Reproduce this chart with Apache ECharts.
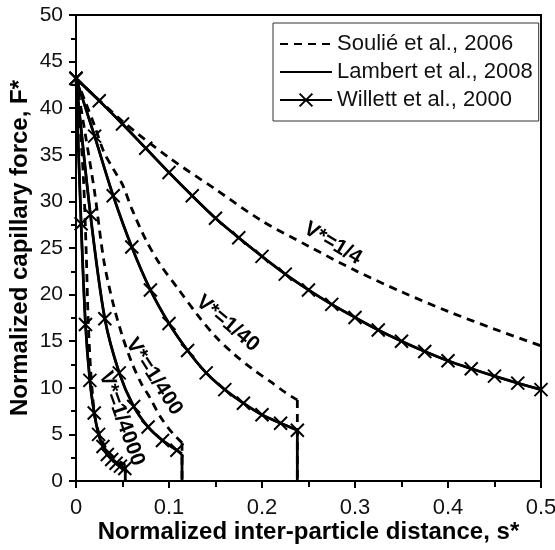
<!DOCTYPE html>
<html>
<head>
<meta charset="utf-8">
<script src="https://cdn.jsdelivr.net/npm/echarts@6/dist/echarts.min.js"></script>
<style>
  html, body { margin: 0; padding: 0; background: #fff; }
  #chart { width: 555px; height: 550px; }
</style>
</head>
<body>
<div id="chart"></div>
<script>
// B 数据
// Soulié et al., 2006 (虚线)
var soulie4X = [0, 0.05, 0.1, 0.15, 0.2, 0.25, 0.3, 0.35, 0.4, 0.45, 0.5]
var soulie4F = [43.2, 38.6, 34.7, 31.3, 27.9, 25.2, 22.6, 20.3, 18.2, 16.3, 14.5]
var soulie40X = [0, 0.01, 0.02, 0.03, 0.04, 0.05, 0.06, 0.075, 0.09, 0.11, 0.13, 0.15, 0.17, 0.19, 0.21, 0.225, 0.238]
var soulie40F = [43.2, 40.7, 38.1, 35.3, 33.5, 31.8, 29.2, 25.9, 23.3, 20.6, 17.9, 15.5, 13.6, 12.0, 10.6, 9.5, 8.7]
var soulie400X = [0, 0.01, 0.02, 0.03, 0.04, 0.05, 0.06, 0.07, 0.08, 0.09, 0.1, 0.107, 0.114]
var soulie400F = [43.2, 37.2, 31.0, 23.6, 19.0, 15.5, 12.7, 10.5, 8.85, 7.0, 5.6, 4.8, 4.1]
var soulie4000X = [0, 0.004, 0.008, 0.011, 0.013, 0.0155, 0.018, 0.0205, 0.025, 0.03, 0.035, 0.04, 0.045, 0.05, 0.053]
var soulie4000F = [43.2, 38.5, 32.5, 24.5, 17.5, 12.3, 9.0, 6.8, 5.0, 3.9, 3.1, 2.6, 2.2, 1.9, 1.7]

// Lambert et al., 2008 (实线)
var lambert4X = [0, 0.025, 0.05, 0.075, 0.1, 0.125, 0.15, 0.175, 0.2, 0.225, 0.25, 0.275, 0.3, 0.325, 0.35, 0.375, 0.4, 0.425, 0.45, 0.475, 0.5]
var lambert4F = [43.2, 40.8, 38.3, 35.7, 33.1, 30.6, 28.2, 26.1, 24.1, 22.2, 20.5, 18.95, 17.55, 16.2, 15.0, 13.9, 12.9, 12.05, 11.25, 10.5, 9.8]
var lambert40X = [0, 0.02, 0.04, 0.06, 0.08, 0.1, 0.12, 0.14, 0.16, 0.18, 0.2, 0.22, 0.238]
var lambert40F = [43.2, 37.0, 30.6, 25.1, 20.5, 16.9, 14.0, 11.6, 9.8, 8.35, 7.1, 6.2, 5.45]
var lambert400X = [0, 0.0155, 0.031, 0.0465, 0.062, 0.0775, 0.093, 0.1085, 0.114]
var lambert400F = [43.2, 28.6, 17.4, 11.6, 8.0, 5.8, 4.35, 3.3, 2.9]
var lambert4000X = [0, 0.0055, 0.0102, 0.0149, 0.0196, 0.0243, 0.029, 0.0337, 0.0384, 0.0431, 0.0478, 0.053]
var lambert4000F = [43.2, 27.6, 16.8, 10.8, 7.3, 5.0, 3.7, 2.85, 2.3, 1.9, 1.6, 1.3]

// Willett et al., 2000 (叉号)
var willett4X = [0, 0.025, 0.05, 0.075, 0.1, 0.125, 0.15, 0.175, 0.2, 0.225, 0.25, 0.275, 0.3, 0.325, 0.35, 0.375, 0.4, 0.425, 0.45, 0.475, 0.5]
var willett4F = [43.2, 40.8, 38.3, 35.7, 33.1, 30.6, 28.2, 26.1, 24.1, 22.2, 20.5, 18.95, 17.55, 16.2, 15.0, 13.9, 12.9, 12.05, 11.25, 10.5, 9.8]
var willett40X = [0, 0.02, 0.04, 0.06, 0.08, 0.1, 0.12, 0.14, 0.16, 0.18, 0.2, 0.22, 0.238]
var willett40F = [43.2, 37.0, 30.6, 25.1, 20.5, 16.9, 14.0, 11.6, 9.8, 8.35, 7.1, 6.2, 5.45]
var willett400X = [0, 0.0155, 0.031, 0.0465, 0.062, 0.0775, 0.093, 0.1085]
var willett400F = [43.2, 28.6, 17.4, 11.6, 8.0, 5.8, 4.35, 3.3]
var willett4000X = [0, 0.0055, 0.0102, 0.0149, 0.0196, 0.0243, 0.029, 0.0337, 0.0384, 0.0431, 0.0478, 0.0525]
var willett4000F = [43.2, 27.6, 16.8, 10.8, 7.3, 5.0, 3.7, 2.85, 2.3, 1.9, 1.6, 1.35]

// 断裂距离 (竖线落到 0)
var ruptureX = [0.053, 0.114, 0.238]

// 曲线标注
var curveLabels = ['V*=1/4', 'V*=1/40', 'V*=1/400', 'V*=1/4000']
var curveLabelAt = [[0.276, 25.5], [0.163, 16.9], [0.084, 11.2], [0.049, 6.7]]
var curveLabelAngle = [-31, -40, -57, -70]
// E 数据

var FONT = '"Liberation Sans", Arial, sans-serif'
var SOULIE = 'Soulié et al., 2006'
var LAMBERT = 'Lambert et al., 2008'
var WILLETT = 'Willett et al., 2000'
var CROSS = 'path://M0,0L10,10M10,0L0,10'
var DASH = [8, 6]

function pairs (xs, ys) {
  return xs.map(function (x, i) { return [x, ys[i]] })
}

function dashLine (xs, ys) {
  return {
    name: SOULIE, type: 'line', data: pairs(xs, ys), symbol: 'none', smooth: 0.3,
    lineStyle: { color: '#000', width: 2.8, type: DASH }, z: 2
  }
}
function solidLine (xs, ys) {
  return {
    name: LAMBERT, type: 'line', data: pairs(xs, ys), symbol: 'none', smooth: 0.3,
    lineStyle: { color: '#000', width: 2.8 }, z: 3
  }
}
function crossLine (xs, ys) {
  return {
    name: WILLETT, type: 'line', data: pairs(xs, ys), smooth: 0.3,
    symbol: CROSS, symbolSize: 13, showAllSymbol: true,
    itemStyle: { color: '#000', borderColor: '#000', borderWidth: 2 },
    lineStyle: { color: '#000', width: 2.4 }, z: 4
  }
}
// 竖直断裂线
function dropLine (name, x, yTop, dashed) {
  return {
    name: name, type: 'line', data: [[x, yTop], [x, 0]], symbol: 'none',
    lineStyle: { color: '#000', width: 2.8, type: dashed ? DASH : 'solid' }, z: dashed ? 2 : 3
  }
}

var series = [
  dashLine(soulie4X, soulie4F),
  dashLine(soulie40X, soulie40F),
  dashLine(soulie400X, soulie400F),
  dashLine(soulie4000X, soulie4000F),
  dropLine(SOULIE, ruptureX[0], soulie4000F[soulie4000F.length - 1], true),
  dropLine(SOULIE, ruptureX[1], soulie400F[soulie400F.length - 1], true),
  dropLine(SOULIE, ruptureX[2], soulie40F[soulie40F.length - 1], true),
  solidLine(lambert4X, lambert4F),
  solidLine(lambert40X, lambert40F),
  solidLine(lambert400X, lambert400F),
  solidLine(lambert4000X, lambert4000F),
  dropLine(LAMBERT, ruptureX[0], lambert4000F[lambert4000F.length - 1], false),
  dropLine(LAMBERT, ruptureX[1], lambert400F[lambert400F.length - 1], false),
  dropLine(LAMBERT, ruptureX[2], lambert40F[lambert40F.length - 1], false),
  crossLine(willett4X, willett4F),
  crossLine(willett40X, willett40F),
  crossLine(willett400X, willett400F),
  crossLine(willett4000X, willett4000F)
]

var myChart = echarts.init(document.getElementById('chart'), null, { renderer: 'canvas' })

var option = {
  backgroundColor: '#fff',
  animation: false,
  grid: {
    left: 76, right: 14, top: 15, bottom: 69,
    outerBoundsMode: 'none', containLabel: false,
    show: true, borderColor: '#000', borderWidth: 2, backgroundColor: 'transparent'
  },
  legend: {
    orient: 'vertical', left: 273, top: 23,
    padding: [10, 6, 10, 6], itemGap: 6, itemWidth: 52, itemHeight: 16,
    borderColor: '#333', borderWidth: 1, backgroundColor: '#fff',
    textStyle: { fontFamily: FONT, fontSize: 22, color: '#111' },
    data: [
      { name: SOULIE, itemStyle: { opacity: 0 } },
      { name: LAMBERT, itemStyle: { opacity: 0 } },
      { name: WILLETT }
    ]
  },
  xAxis: {
    type: 'value', min: 0, max: 0.5, interval: 0.1,
    name: 'Normalized inter-particle distance, s*',
    nameLocation: 'middle', nameGap: 39, nameMoveOverlap: false,
    nameTextStyle: { fontFamily: FONT, fontSize: 24, fontWeight: 'bold', color: '#000' },
    axisLine: { lineStyle: { color: '#000', width: 2 } },
    axisTick: { length: 7, lineStyle: { color: '#000', width: 2 } },
    minorTick: { show: true, splitNumber: 2, length: 6, lineStyle: { color: '#000', width: 2 } },
    axisLabel: { margin: 16, fontFamily: FONT, fontSize: 22, color: '#111' },
    splitLine: { show: false }
  },
  yAxis: {
    type: 'value', min: 0, max: 50, interval: 5,
    name: 'Normalized capillary force, F*',
    nameLocation: 'middle', nameGap: 44, nameMoveOverlap: false,
    nameTextStyle: { fontFamily: FONT, fontSize: 24, fontWeight: 'bold', color: '#000' },
    axisLine: { lineStyle: { color: '#000', width: 2 } },
    axisTick: { length: 7, lineStyle: { color: '#000', width: 2 } },
    minorTick: { show: true, splitNumber: 2, length: 5, lineStyle: { color: '#000', width: 2 } },
    axisLabel: { margin: 13, fontFamily: FONT, fontSize: 21, color: '#111' },
    splitLine: { show: false }
  },
  series: series
}

myChart.setOption(option)

// B 曲线标注 (按数据坐标定位)
var graphics = curveLabels.map(function (txt, i) {
  var p = myChart.convertToPixel({ gridIndex: 0 }, curveLabelAt[i])
  return {
    type: 'text', x: p[0], y: p[1], z: 20,
    rotation: curveLabelAngle[i] * Math.PI / 180,
    style: {
      text: txt, fill: '#000', align: 'center', verticalAlign: 'middle',
      font: 'bold 21px ' + FONT
    }
  }
})
myChart.setOption({ graphic: graphics })
// E 曲线标注
</script>
</body>
</html>
